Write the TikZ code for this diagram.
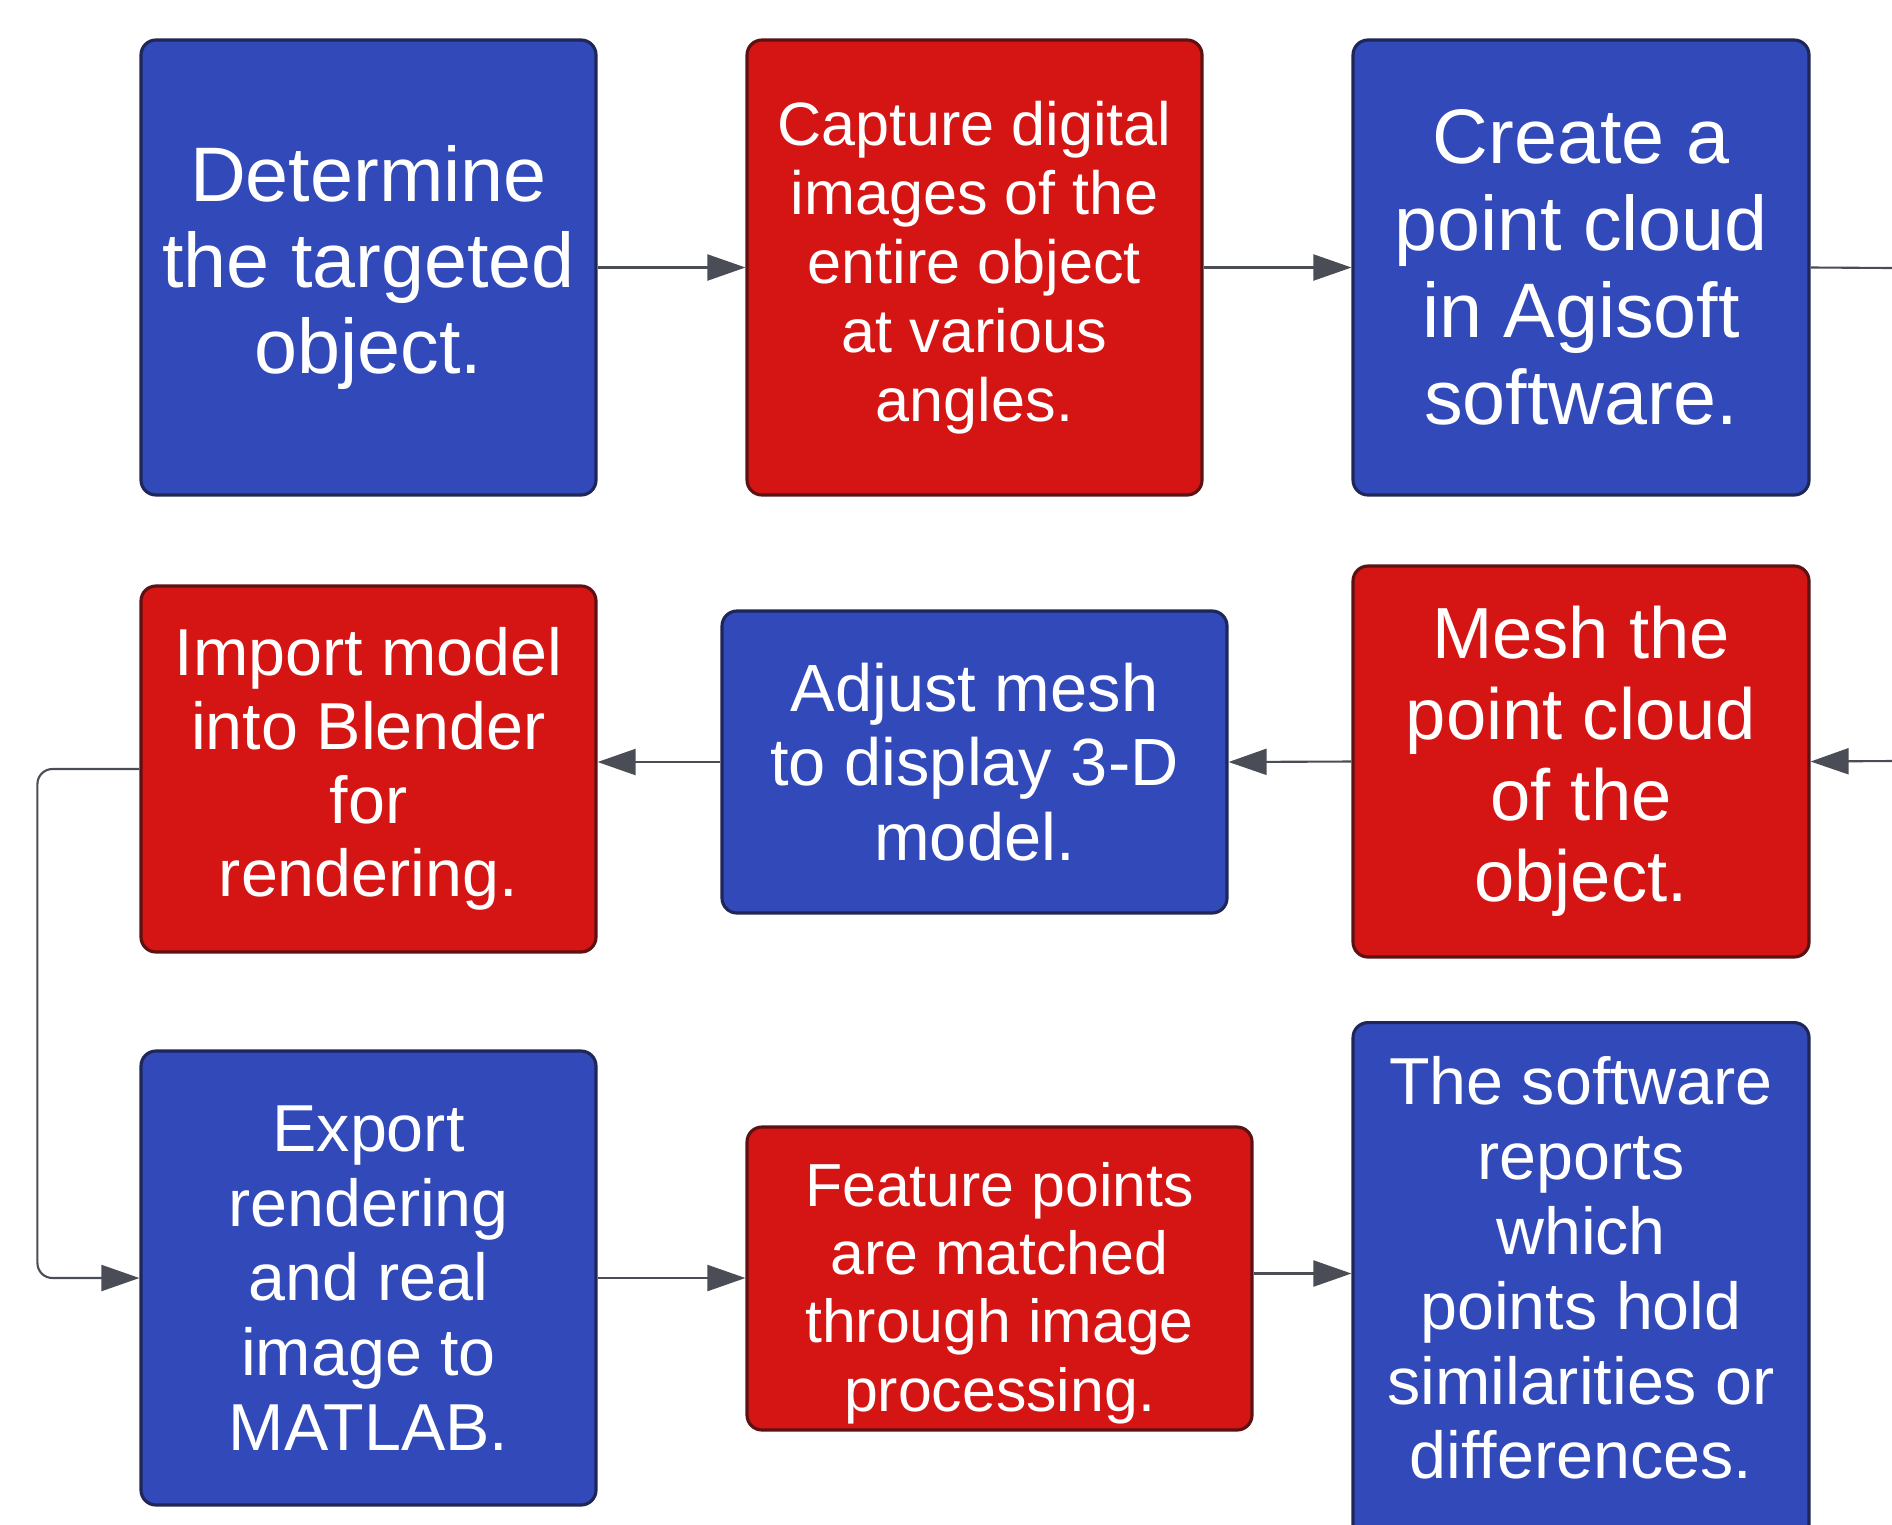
\documentclass[tikz,border=0pt]{standalone}
\usepackage{fontspec}
\setmainfont{Liberation Sans}
\usetikzlibrary{arrows.meta,calc}

\definecolor{stepblue}{HTML}{3149B9}
\definecolor{stepred}{HTML}{D51414}
\definecolor{blueedge}{HTML}{1E2758}
\definecolor{rededge}{HTML}{5C1212}
\definecolor{linegray}{HTML}{4A4D55}

\tikzset{
  box/.style={rounded corners=0.15cm, line width=0.9pt, text=white, align=center, inner sep=0pt},
  bluebox/.style={box, fill=stepblue, draw=blueedge},
  redbox/.style={box, fill=stepred, draw=rededge},
  boxtext/.style={text=white, align=center, inner sep=0pt},
  flow/.style={draw=linegray, line width=0.6pt, -{Triangle[length=0.38cm,width=0.26cm]}},
}

\begin{document}
\begin{tikzpicture}
\path[use as bounding box] (0,0) rectangle (18.92,-15.24);
\clip (0,0) rectangle (18.92,-15.24);

% Top row
\node[bluebox, minimum width=4.55cm, minimum height=4.55cm, font=\fontsize{22pt}{24.5pt}\selectfont] (target) at (3.685,-2.675) {Determine\\the targeted\\object.};
\node[redbox, minimum width=4.55cm, minimum height=4.55cm, font=\fontsize{17.4pt}{19.6pt}\selectfont] (capture) at (9.745,-2.675) {Capture digital\\images of the\\entire object\\at various\\angles.};
\node[bluebox, minimum width=4.56cm, minimum height=4.55cm, font=\fontsize{22pt}{24.8pt}\selectfont] (cloud) at (15.81,-2.675) {Create a\\point cloud\\in Agisoft\\software.};

% Middle row
\node[redbox, minimum width=4.56cm, minimum height=3.91cm, font=\fontsize{20.6pt}{23pt}\selectfont] (mesh) at (15.81,-7.615) {Mesh the\\point cloud\\of the\\object.};
\node[bluebox, minimum width=5.05cm, minimum height=3.02cm, font=\fontsize{19pt}{21.3pt}\selectfont] (adjust) at (9.745,-7.62) {Adjust mesh\\to display 3-D\\model.};
\node[redbox, minimum width=4.55cm, minimum height=3.66cm, font=\fontsize{18.9pt}{21pt}\selectfont] (import) at (3.685,-7.69) {Import model\\into Blender\\for\\rendering.};

% Bottom row
\node[bluebox, minimum width=4.55cm, minimum height=4.54cm, font=\fontsize{18.9pt}{21.3pt}\selectfont] (export) at (3.685,-12.78) {Export\\rendering\\and real\\image to\\MATLAB.};
\node[redbox, minimum width=5.05cm, minimum height=3.03cm] (feature) at (9.995,-12.785) {};
\node[boxtext, font=\fontsize{17.3pt}{19.4pt}\selectfont] (featuretext) at (9.995,-12.93) {Feature points\\are matched\\through image\\processing.};
\node[bluebox, minimum width=4.56cm, minimum height=6.0cm, anchor=north] (reports) at (15.81,-10.21) {};
\node[boxtext, font=\fontsize{18.9pt}{21.3pt}\selectfont] (reportstext) at (15.81,-12.68) {The software\\reports\\which\\points hold\\similarities or\\differences.};

% Connectors
\coordinate (outright) at (18.92,-2.68);
\coordinate (inright) at (18.92,-7.61);
\draw[flow] (target) -- (capture);
\draw[flow] (capture) -- (cloud);
\draw[draw=linegray, line width=0.6pt] (cloud.east) -- (outright);
\draw[flow] (inright) -- (mesh.east);
\draw[flow] (mesh.west) -- (adjust.east);
\draw[flow] (adjust.west) -- (adjust.west -| import.east);
\draw[flow, rounded corners=0.15cm] (import.west) -- ++(-1.02,0) |- (export.west);
\draw[flow] (export.east) -- (export.east -| feature.west);
\draw[flow] ($(feature.east)+(0,0.05)$) -- ($(feature.east -| reports.west)+(0,0.05)$);
\end{tikzpicture}
\end{document}
